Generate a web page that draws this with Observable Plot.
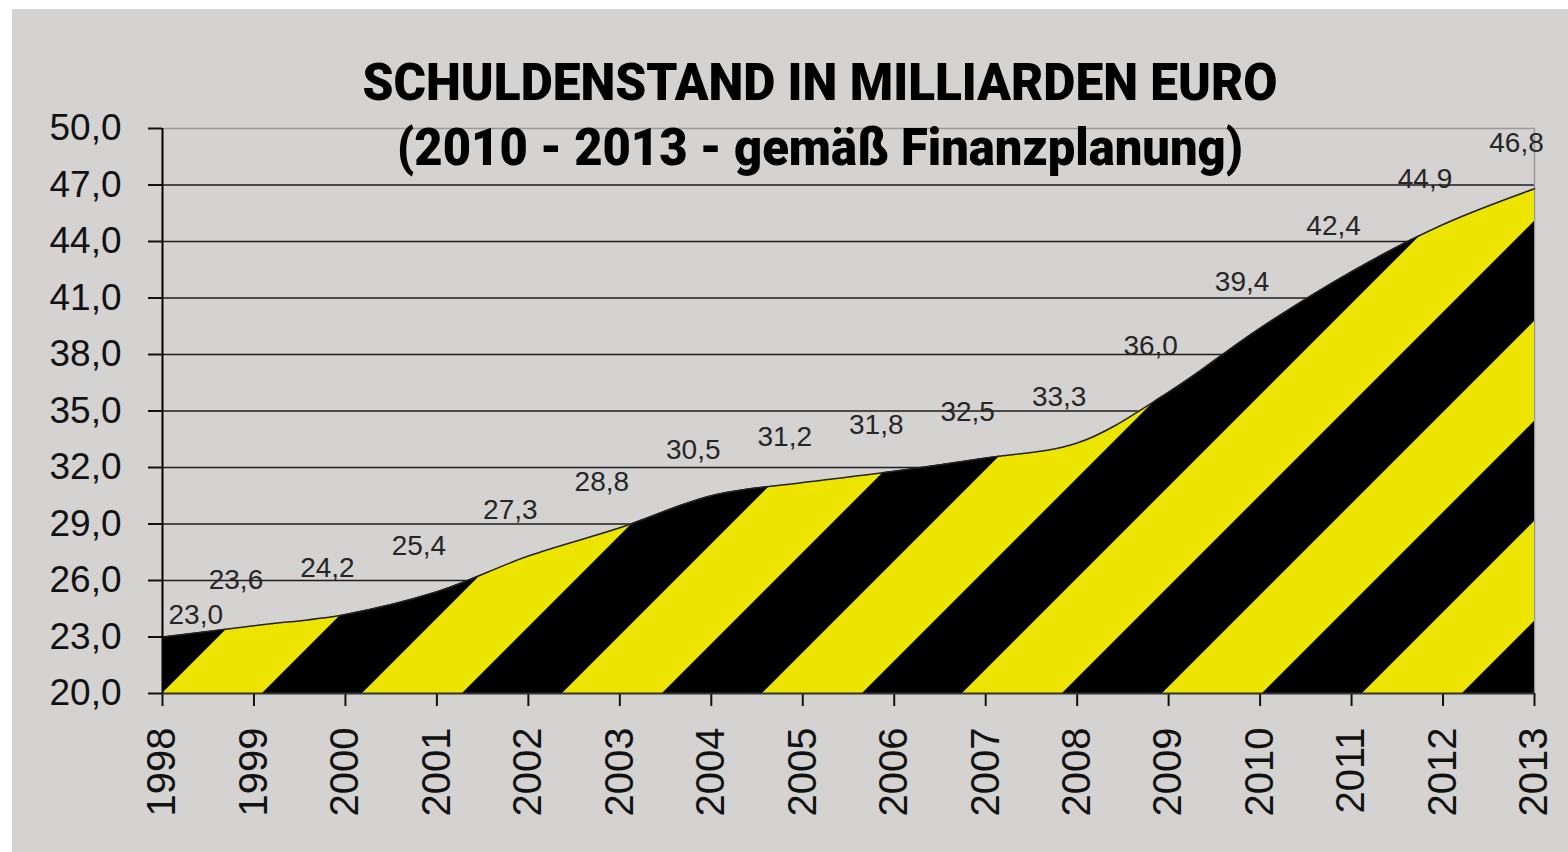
<!DOCTYPE html>
<html>
<head>
<meta charset="utf-8">
<script src="https://cdn.jsdelivr.net/npm/d3@7"></script>
<script src="https://cdn.jsdelivr.net/npm/@observablehq/plot@0.6"></script>
<style>
  html, body { margin: 0; padding: 0; background: #ffffff; }
  #frame { position: absolute; left: 12px; top: 9px; width: 1556px; height: 843px; background: #d4d3d1; overflow: hidden; }
  #chart { position: absolute; left: 0; top: 0; }
  #title { position: absolute; left: 0; top: 0; pointer-events: none; }
  #title text { font-family: Roboto, "DejaVu Sans Condensed", sans-serif; font-weight: 900; fill: #000; }
</style>
</head>
<body>
<div id="frame">
  <div id="chart"></div>
  <svg id="title" width="1556" height="200" viewBox="0 0 1556 200">
    <text id="t1" x="808" y="91" text-anchor="middle" font-size="52" textLength="915" lengthAdjust="spacingAndGlyphs">SCHULDENSTAND IN MILLIARDEN EURO</text>
    <text id="t2" x="808" y="156" text-anchor="middle" font-size="52" textLength="846" lengthAdjust="spacingAndGlyphs">(2010 - 2013 - gemäß Finanzplanung)</text>
  </svg>
</div>
<script>
// ---- data ----
const years = [1998, 1999, 2000, 2001, 2002, 2003, 2004, 2005, 2006, 2007, 2008, 2009, 2010, 2011, 2012, 2013];
const debt = [23.0, 23.6, 24.2, 25.4, 27.3, 28.8, 30.5, 31.2, 31.8, 32.5, 33.3, 36.0, 39.4, 42.4, 44.9, 46.8];
const yTicks = [20, 23, 26, 29, 32, 35, 38, 41, 44, 47, 50];
const gridLines = [23, 26, 29, 32, 35, 38, 41, 44, 47];
const yBase = 20;
const yTop = 50;

const data = years.map((year, i) => ({year, value: debt[i]}));
const fmt = v => v.toFixed(1).replace(".", ",");
const yellow = "#ede400";

const plot = Plot.plot({
  width: 1556,
  height: 843,
  marginLeft: 150,
  marginRight: 34,
  marginTop: 119,
  marginBottom: 159,
  style: {background: "transparent", fontFamily: "'Liberation Sans', Arial, sans-serif", fontSize: "37px", color: "#111"},
  x: {domain: [years[0], years[years.length - 1]], ticks: years, tickFormat: d => String(d), tickRotate: -90, tickSize: 13, tickPadding: 21, label: null},
  y: {domain: [yBase, yTop], ticks: yTicks, tickFormat: fmt, tickSize: 14, tickPadding: 27, label: null},
  marks: [
    Plot.ruleY(gridLines, {stroke: "#1c1c1c", strokeWidth: 1.6}),
    Plot.ruleY([yTop], {stroke: "#9a9a9a", strokeWidth: 1.5}),
    Plot.ruleX([years[years.length - 1]], {stroke: "#9a9a9a", strokeWidth: 1.5}),
    Plot.areaY(data, {x: "year", y1: () => yBase, y2: "value", fill: "#000", curve: "monotone-x"}),
    Plot.line(data, {x: "year", y: "value", stroke: "#222", strokeWidth: 1.5, curve: "monotone-x"}),
    Plot.ruleY([yBase], {stroke: "#333", strokeWidth: 2}),
    Plot.ruleX([years[0]], {stroke: "#000", strokeWidth: 2}),
    Plot.text(data, {filter: (d, i) => i === 0, x: "year", y: "value", text: d => fmt(d.value), textAnchor: "start", dx: 6, dy: -22, fontSize: 28, fill: "#262626"}),
    Plot.text(data, {filter: (d, i) => i > 0, x: "year", y: "value", text: d => fmt(d.value), dx: -18, dy: -46, fontSize: 28, fill: "#262626"})
  ]
});

document.getElementById("chart").appendChild(plot);

const svg = d3.select(plot);
// axis styling
svg.selectAll('[aria-label="x-axis tick label"] text, [aria-label="x-axis"] text').style("font-size", "40px");
svg.selectAll('[aria-label="y-axis tick label"] text, [aria-label="y-axis"] text').style("font-size", "37px");
svg.selectAll('[aria-label="x-axis tick"], [aria-label="y-axis tick"]').attr("stroke", "#111").attr("stroke-width", 2);

// hazard stripe pattern, phased so a yellow band starts at the bottom-left corner
const c = plot.scale("x").apply(years[0]) + plot.scale("y").apply(yBase);
const defs = svg.insert("defs", ":first-child");
const pat = defs.append("pattern")
  .attr("id", "hazard")
  .attr("patternUnits", "userSpaceOnUse")
  .attr("width", 200).attr("height", 200)
  .attr("x", c).attr("y", 0);
pat.append("rect").attr("width", 200).attr("height", 200).attr("fill", "#000");
pat.append("polygon").attr("points", "0,0 100,0 0,100").attr("fill", yellow);
pat.append("polygon").attr("points", "200,0 200,100 100,200 0,200").attr("fill", yellow);
svg.selectAll('g[aria-label="area"] path').attr("fill", "url(#hazard)");
</script>
</body>
</html>
